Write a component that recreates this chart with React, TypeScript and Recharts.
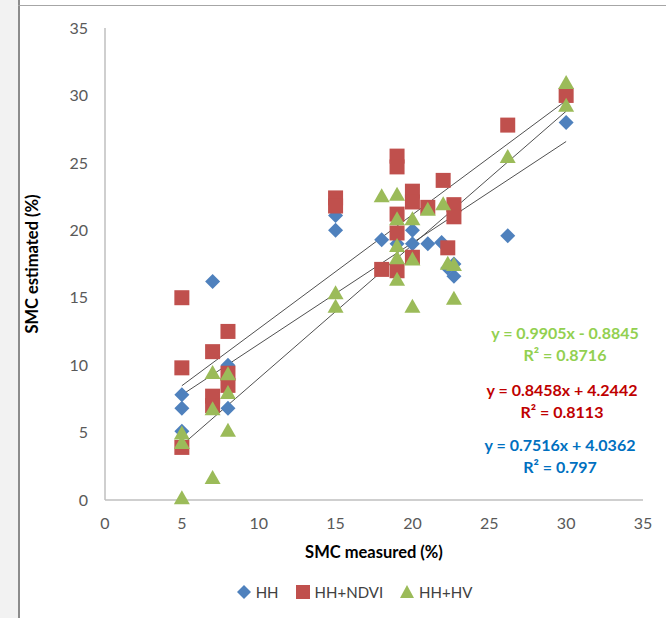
import React from 'react'
import { ScatterChart, Scatter, XAxis, YAxis, ReferenceLine } from 'recharts'

// measured vs estimated soil moisture (%)
const hhMeasured = [5, 5, 5, 7, 8, 8, 15, 15, 18, 19, 20, 20, 21, 21.9, 22.3, 22.7, 22.7, 26.2, 30]
const hhEstimated = [7.8, 6.8, 5.1, 16.2, 10.0, 6.8, 21.1, 20.0, 19.3, 19.0, 20.0, 19.0, 19.0, 19.1, 17.2, 16.6, 17.5, 19.6, 28.0]

const ndviMeasured = [5, 5, 5, 7, 7, 7, 8, 8, 8, 15, 15, 18, 19, 19, 19, 19, 19, 20, 20, 20, 21, 22, 22.3, 22.7, 22.7, 26.2, 30]
const ndviEstimated = [15.0, 9.8, 3.9, 11.0, 7.7, 7.0, 12.5, 9.4, 8.5, 22.4, 21.8, 17.1, 25.5, 24.7, 21.2, 19.8, 17.0, 22.9, 22.1, 18.0, 21.7, 23.7, 18.7, 21.9, 21.0, 27.8, 30.0]

const hvMeasured = [5, 5, 5, 7, 7, 7, 8, 8, 8, 15, 15, 18, 19, 19, 19, 19, 19, 20, 20, 20, 21, 22, 22.3, 22.7, 22.7, 26.2, 30, 30]
const hvEstimated = [5.0, 4.3, 0.2, 9.5, 6.8, 1.7, 9.4, 8.0, 5.2, 15.4, 14.4, 22.6, 22.7, 20.9, 18.9, 18.0, 16.4, 20.9, 17.9, 14.4, 21.6, 22.0, 17.6, 17.5, 15.0, 25.5, 31.0, 29.3]

const xTicks = [0, 5, 10, 15, 20, 25, 30, 35]
const yTicks = [0, 5, 10, 15, 20, 25, 30, 35]

// trendline slope / intercept, drawn over the measured range
const trendRange = [5, 30]
const hhFit = [0.7516, 4.0362]
const ndviFit = [0.8458, 4.2442]
const hvFit = [0.9905, -0.8845]

const equations = [
  { eq: 'y = 0.9905x - 0.8845', r2: 'R² = 0.8716', color: '#92D050', cx: 565, top: 333 },
  { eq: 'y = 0.8458x + 4.2442', r2: 'R² = 0.8113', color: '#C00000', cx: 562, top: 390 },
  { eq: 'y = 0.7516x + 4.0362', r2: 'R² = 0.797', color: '#0070C0', cx: 560, top: 445 },
]

const FONT = 'Lato, "Open Sans", sans-serif'
const BLUE = '#4F81BD'
const RED = '#C0504D'
const GREEN = '#9BBB59'

const toPoints = (xs: number[], ys: number[]) => xs.map((x, i) => ({ x, y: ys[i] }))
const fitSegment = (fit: number[]) => trendRange.map(x => ({ x, y: fit[0] * x + fit[1] }))

const Diamond = (props: any) => {
  const { cx, cy, fill } = props
  const r = 7.5
  return <path d={`M${cx},${cy - r}L${cx + r},${cy}L${cx},${cy + r}L${cx - r},${cy}Z`} fill={fill} />
}

const Square = (props: any) => {
  const { cx, cy, fill } = props
  return <rect x={cx - 7.5} y={cy - 7.5} width={15} height={15} fill={fill} />
}

const Triangle = (props: any) => {
  const { cx, cy, fill } = props
  return <path d={`M${cx},${cy - 7}L${cx + 8},${cy + 7}L${cx - 8},${cy + 7}Z`} fill={fill} />
}

const XTitle = (props: any) => {
  const vb = props.viewBox
  return (
    <text x={vb.x + vb.width / 2} y={vb.y + 52} textAnchor="middle" dominantBaseline="central"
      fontFamily={FONT} fontWeight={700} fontSize={16.5} fill="#000">
      SMC measured (%)
    </text>
  )
}

const YTitle = (props: any) => {
  const vb = props.viewBox
  const x = vb.x + 17
  const y = vb.y + vb.height / 2
  return (
    <text x={x} y={y} transform={`rotate(-90, ${x}, ${y})`} textAnchor="middle" dominantBaseline="central"
      fontFamily={FONT} fontWeight={700} fontSize={16.5} fill="#000">
      SMC estimated (%)
    </text>
  )
}

const legendItems = [
  { name: 'HH', color: BLUE, shape: 'diamond' },
  { name: 'HH+NDVI', color: RED, shape: 'square' },
  { name: 'HH+HV', color: GREEN, shape: 'triangle' },
]

const LegendIcon = ({ shape, color }: { shape: string; color: string }) => (
  <svg width={16} height={16} style={{ marginRight: 4 }}>
    {shape === 'diamond' && <path d="M8,1L15,8L8,15L1,8Z" fill={color} />}
    {shape === 'square' && <rect x={1} y={1} width={14} height={14} fill={color} />}
    {shape === 'triangle' && <path d="M8,1L15,14L1,14Z" fill={color} />}
  </svg>
)

export default function App() {
  const tickStyle = { fill: '#595959', fontSize: 16, fontFamily: FONT }
  const lineStroke = '#505050'

  return (
    <div style={{ position: 'absolute', left: 0, top: 0, width: 666, height: 618, background: '#f2f2f2', overflow: 'hidden' }}>
      <div style={{ position: 'absolute', left: 18, top: 0, right: 0, bottom: 0, background: '#fff', borderLeft: '2px solid #8c8c8c' }} />
      <div style={{ position: 'absolute', left: 18, top: 5, right: 0, height: 0, borderTop: '1px solid #a6a6a6' }} />
      <div style={{ position: 'absolute', left: 0, top: 0 }}>
        <ScatterChart width={666} height={618} margin={{ top: 28, right: 23, bottom: 88, left: 15 }}>
          <XAxis type="number" dataKey="x" domain={[0, 35]} ticks={xTicks} tickLine={false}
            axisLine={{ stroke: '#bfbfbf', strokeWidth: 1.5 }} tick={tickStyle} tickMargin={12} height={30}
            label={<XTitle />} />
          <YAxis type="number" dataKey="y" domain={[0, 35]} ticks={yTicks} tickLine={false}
            axisLine={{ stroke: '#bfbfbf', strokeWidth: 1.5 }} tick={tickStyle} tickMargin={11} width={90}
            label={<YTitle />} />
          <Scatter name="HH" data={toPoints(hhMeasured, hhEstimated)} fill={BLUE} shape={<Diamond />} isAnimationActive={false} />
          <Scatter name="HH+NDVI" data={toPoints(ndviMeasured, ndviEstimated)} fill={RED} shape={<Square />} isAnimationActive={false} />
          <Scatter name="HH+HV" data={toPoints(hvMeasured, hvEstimated)} fill={GREEN} shape={<Triangle />} isAnimationActive={false} />
          <ReferenceLine segment={fitSegment(hvFit)} stroke={lineStroke} strokeWidth={1} />
          <ReferenceLine segment={fitSegment(ndviFit)} stroke={lineStroke} strokeWidth={1} />
          <ReferenceLine segment={fitSegment(hhFit)} stroke={lineStroke} strokeWidth={1} />
        </ScatterChart>
      </div>
      {equations.map(e => (
        <div key={e.eq} style={{ position: 'absolute', left: e.cx - 100, width: 200, top: e.top - 11, textAlign: 'center',
          fontFamily: FONT, fontWeight: 700, fontSize: 16, color: e.color, lineHeight: '22px' }}>
          <div>{e.eq}</div>
          <div>{e.r2}</div>
        </div>
      ))}
      <div style={{ position: 'absolute', left: 0, width: 666, top: 583, display: 'flex', justifyContent: 'center',
        paddingLeft: 42, boxSizing: 'border-box', fontFamily: FONT, fontSize: 15, color: '#404040' }}>
        {legendItems.map(it => (
          <div key={it.name} style={{ display: 'flex', alignItems: 'center', margin: '0 8px' }}>
            <LegendIcon shape={it.shape} color={it.color} />
            <span>{it.name}</span>
          </div>
        ))}
      </div>
    </div>
  )
}
